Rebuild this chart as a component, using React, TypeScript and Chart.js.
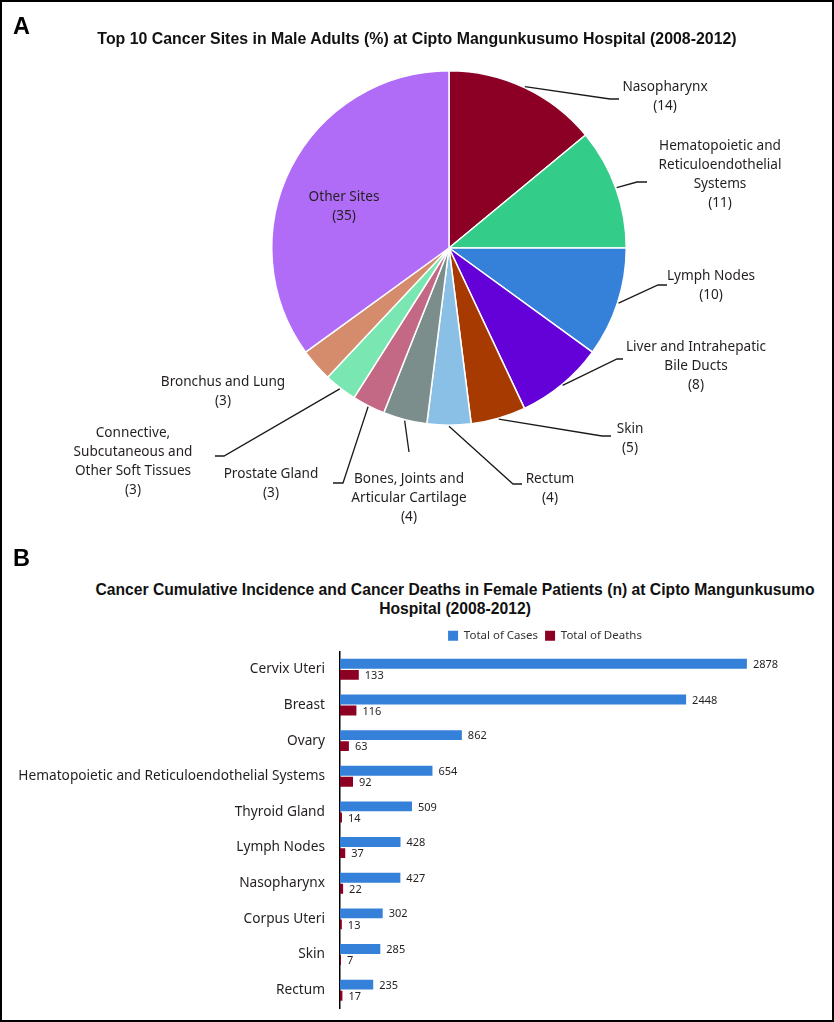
import React, { useEffect, useRef } from "react";
import { Chart, registerables } from "chart.js";

Chart.register(...registerables);

// ---------- Data: Panel A (pie) ----------
const pieSites = [
  "Nasopharynx",
  "Hematopoietic and Reticuloendothelial Systems",
  "Lymph Nodes",
  "Liver and Intrahepatic Bile Ducts",
  "Skin",
  "Rectum",
  "Bones, Joints and Articular Cartilage",
  "Prostate Gland",
  "Connective, Subcutaneous and Other Soft Tissues",
  "Bronchus and Lung",
  "Other Sites",
];
const piePercents = [14, 11, 10, 8, 5, 4, 4, 3, 3, 3, 35];
const pieColors = [
  "#8c0026",
  "#33cc88",
  "#3580d8",
  "#6400d8",
  "#a63a00",
  "#8bc0e6",
  "#7b8e8c",
  "#c46985",
  "#7ae6b2",
  "#d48c6c",
  "#b06cf6",
];

// ---------- Data: Panel B (bars) ----------
const barSites = [
  "Cervix Uteri",
  "Breast",
  "Ovary",
  "Hematopoietic and Reticuloendothelial Systems",
  "Thyroid Gland",
  "Lymph Nodes",
  "Nasopharynx",
  "Corpus Uteri",
  "Skin",
  "Rectum",
];
const totalCases = [2878, 2448, 862, 654, 509, 428, 427, 302, 285, 235];
const totalDeaths = [133, 116, 63, 92, 14, 37, 22, 13, 7, 17];
const seriesNames = ["Total of Cases", "Total of Deaths"];
const barColors = ["#3580d8", "#8b0023"];

const titleA = "Top 10 Cancer Sites in Male Adults (%) at Cipto Mangunkusumo Hospital (2008-2012)";
const titleBLines = [
  "Cancer Cumulative Incidence and Cancer Deaths in Female Patients (n) at Cipto Mangunkusumo",
  "Hospital (2008-2012)",
];

// ---------- Layout (label placement relative to pie centre) ----------
type LabelLayout = { line?: [number, number][]; text: [number, number]; wrap: number };
const pieLabelLayout: LabelLayout[] = [
  { line: [[161, -149], [170, -149]], text: [216, -161], wrap: 200 },
  { line: [[188, -66], [198, -66]], text: [271, -102], wrap: 135 },
  { line: [[209, 37], [218, 37]], text: [262, 28], wrap: 200 },
  { line: [[168, 111], [174, 111]], text: [247, 99], wrap: 160 },
  { line: [[153, 188], [162, 188]], text: [181, 181], wrap: 200 },
  { line: [[64, 236], [73, 236]], text: [101, 231], wrap: 200 },
  { line: [[-40, 204]], text: [-40, 231], wrap: 150 },
  { line: [[-106, 235], [-116, 235]], text: [-178, 226], wrap: 200 },
  { line: [[-225, 208], [-234, 208]], text: [-316, 185], wrap: 130 },
  { text: [-226, 134], wrap: 200 },
  { text: [-105, -51], wrap: 200 },
];

const FONT = '"Noto Sans", "DejaVu Sans", sans-serif';
const TEXT = "#231f20";

function wrapText(ctx: CanvasRenderingContext2D, text: string, maxW: number): string[] {
  const words = text.split(" ");
  const lines: string[] = [];
  let cur = "";
  for (const w of words) {
    const test = cur ? cur + " " + w : w;
    if (cur && ctx.measureText(test).width > maxW) {
      lines.push(cur);
      cur = w;
    } else {
      cur = test;
    }
  }
  if (cur) lines.push(cur);
  return lines;
}

const pieLabelPlugin = {
  id: "pieLabels",
  afterDatasetsDraw(chart: any) {
    const ctx: CanvasRenderingContext2D = chart.ctx;
    const meta = chart.getDatasetMeta(0);
    const labels = chart.data.labels as string[];
    const values = chart.data.datasets[0].data as number[];
    ctx.save();
    ctx.font = `13.6px ${FONT}`;
    ctx.fillStyle = TEXT;
    ctx.strokeStyle = "#1a1a1a";
    ctx.lineWidth = 1.3;
    meta.data.forEach((arc: any, i: number) => {
      const p = arc.getProps(["x", "y", "startAngle", "endAngle", "outerRadius"], true);
      const lay = pieLabelLayout[i];
      if (lay.line) {
        const mid = (p.startAngle + p.endAngle) / 2;
        ctx.beginPath();
        ctx.moveTo(p.x + Math.cos(mid) * (p.outerRadius + 1), p.y + Math.sin(mid) * (p.outerRadius + 1));
        lay.line.forEach(([dx, dy]) => ctx.lineTo(p.x + dx, p.y + dy));
        ctx.stroke();
      }
      const lines = wrapText(ctx, labels[i], lay.wrap);
      lines.push(`(${values[i]})`);
      ctx.textAlign = "center";
      ctx.textBaseline = "middle";
      lines.forEach((ln, k) => ctx.fillText(ln, p.x + lay.text[0], p.y + lay.text[1] + k * 19));
    });
    ctx.restore();
  },
};

const barValuePlugin = {
  id: "barValues",
  afterDatasetsDraw(chart: any) {
    const ctx: CanvasRenderingContext2D = chart.ctx;
    ctx.save();
    ctx.font = `11px ${FONT}`;
    ctx.fillStyle = TEXT;
    ctx.textAlign = "left";
    ctx.textBaseline = "middle";
    chart.data.datasets.forEach((ds: any, di: number) => {
      chart.getDatasetMeta(di).data.forEach((bar: any, i: number) => {
        ctx.fillText(String(ds.data[i]), bar.x + 6, bar.y + 1);
      });
    });
    ctx.restore();
  },
};

export default function App() {
  const pieRef = useRef<HTMLCanvasElement>(null);
  const barRef = useRef<HTMLCanvasElement>(null);

  useEffect(() => {
    if (!pieRef.current || !barRef.current) return;
    const pie = new Chart(pieRef.current, {
      type: "pie",
      data: {
        labels: pieSites,
        datasets: [
          {
            data: piePercents,
            backgroundColor: pieColors,
            borderColor: "#ffffff",
            borderWidth: 1.5,
          },
        ],
      },
      options: {
        responsive: false,
        animation: false,
        devicePixelRatio: 1,
        layout: { padding: { left: 271, right: 207, top: 70, bottom: 114 } },
        plugins: { legend: { display: false }, tooltip: { enabled: false } },
      },
      plugins: [pieLabelPlugin],
    } as any);

    const bar = new Chart(barRef.current, {
      type: "bar",
      data: {
        labels: barSites,
        datasets: [
          {
            label: seriesNames[0],
            data: totalCases,
            backgroundColor: barColors[0],
            categoryPercentage: 0.62,
            barPercentage: 0.9,
          },
          {
            label: seriesNames[1],
            data: totalDeaths,
            backgroundColor: barColors[1],
            categoryPercentage: 0.62,
            barPercentage: 0.9,
          },
        ],
      },
      options: {
        indexAxis: "y",
        responsive: false,
        animation: false,
        devicePixelRatio: 1,
        layout: { padding: { top: 3, right: 84, bottom: 7, left: 0 } },
        scales: {
          x: { display: false, min: 0, max: 2900 },
          y: {
            grid: { display: false, drawTicks: false },
            border: { display: true, color: "#000000", width: 1.5 },
            ticks: { font: { family: FONT, size: 13.7 }, color: TEXT, padding: 15 },
            afterFit: (s: any) => {
              s.width = 340;
              s.paddingTop = 0;
              s.paddingBottom = 0;
            },
          },
        },
        plugins: {
          legend: {
            position: "top",
            fullSize: false,
            labels: {
              boxWidth: 10,
              boxHeight: 10,
              padding: 7,
              font: { family: FONT, size: 11.5 },
              color: "#333333",
            },
          },
          tooltip: { enabled: false },
        },
      },
      plugins: [barValuePlugin],
    } as any);

    return () => {
      pie.destroy();
      bar.destroy();
    };
  }, []);

  const bold = '"Liberation Sans", Arial, Helvetica, sans-serif';

  return (
    <div
      style={{
        position: "absolute",
        left: 0,
        top: 0,
        width: 834,
        height: 1022,
        background: "#ffffff",
        overflow: "hidden",
      }}
    >
      <canvas ref={pieRef} width={834} height={540} style={{ position: "absolute", left: 0, top: 0 }} />
      <canvas ref={barRef} width={834} height={395} style={{ position: "absolute", left: 0, top: 620 }} />
      <div
        style={{
          position: "absolute",
          left: 13,
          top: 15,
          font: `bold 23.5px ${bold}`,
          lineHeight: "23.5px",
          color: "#000",
        }}
      >
        A
      </div>
      <div
        style={{
          position: "absolute",
          left: 0,
          width: 834,
          top: 31,
          textAlign: "center",
          font: `bold 15.9px ${bold}`,
          lineHeight: "15.9px",
          color: "#111",
          whiteSpace: "nowrap",
        }}
      >
        {titleA}
      </div>
      <div
        style={{
          position: "absolute",
          left: 13,
          top: 547,
          font: `bold 23.5px ${bold}`,
          lineHeight: "23.5px",
          color: "#000",
        }}
      >
        B
      </div>
      <div
        style={{
          position: "absolute",
          left: 76,
          width: 758,
          top: 580,
          textAlign: "center",
          font: `bold 15.7px ${bold}`,
          lineHeight: "19px",
          color: "#111",
          whiteSpace: "nowrap",
        }}
      >
        {titleBLines.map((t, i) => (
          <div key={i}>{t}</div>
        ))}
      </div>
      <div
        style={{
          position: "absolute",
          left: 0,
          top: 0,
          width: 834,
          height: 1022,
          boxSizing: "border-box",
          border: "2px solid #000",
          pointerEvents: "none",
        }}
      />
    </div>
  );
}
